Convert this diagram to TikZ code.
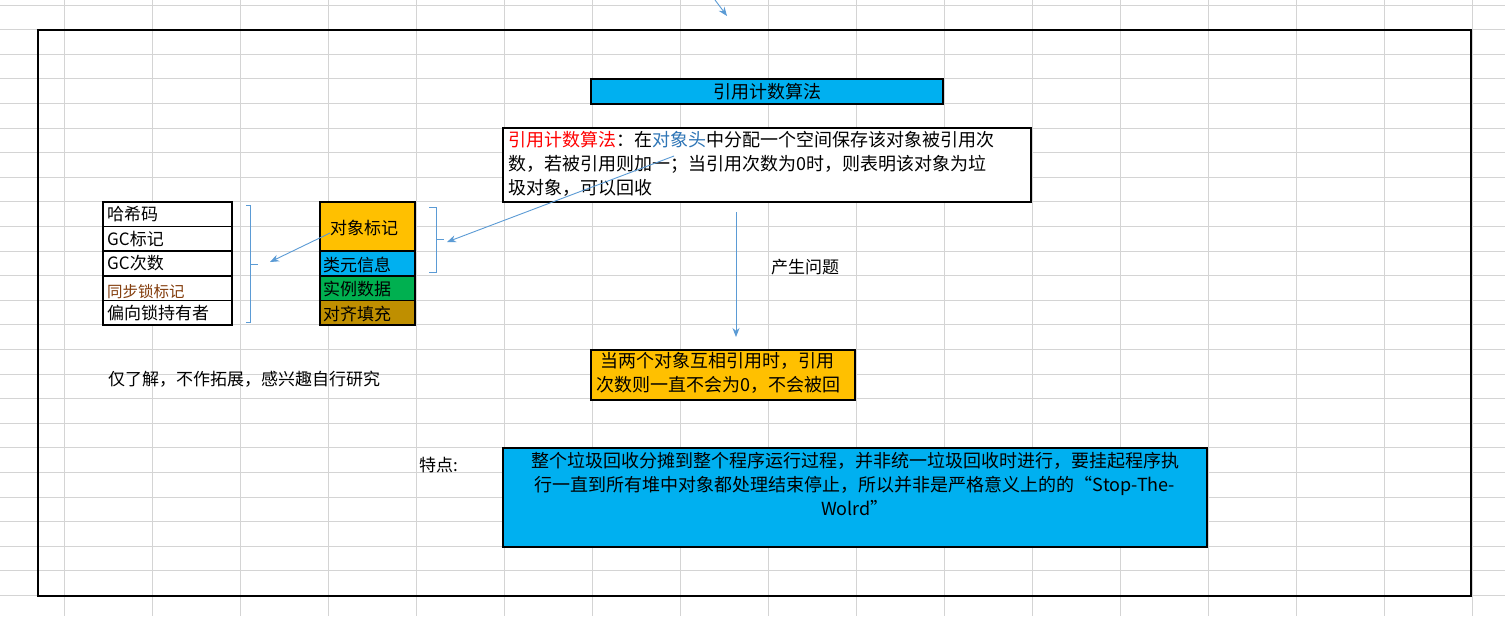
\documentclass[tikz,border=0pt]{standalone}
\usepackage{fontspec}
\setmainfont{Noto Sans CJK SC}
\usetikzlibrary{arrows.meta}
\definecolor{gridc}{HTML}{D4D4D4}
\definecolor{xblue}{HTML}{00B0F0}
\definecolor{xorange}{HTML}{FFC000}
\definecolor{xgreen}{HTML}{00B050}
\definecolor{xbrown}{HTML}{BF8F00}
\definecolor{lineblue}{HTML}{5B9BD5}
\definecolor{txtblue}{HTML}{2E75B6}
\definecolor{dred}{HTML}{833C0B}
\tikzset{
  cell/.style={draw=black, line width=1.6pt, anchor=north west, inner sep=0pt, outer sep=0pt},
  lbl/.style={anchor=west, inner sep=0pt, font=\fontsize{17}{20}\selectfont},
  conn/.style={draw=lineblue, line width=0.9pt, -{Stealth[length=9pt,width=7pt]}},
  brk/.style={draw=lineblue, line width=0.9pt},
  big/.style={font=\fontsize{18}{24}\selectfont}
}
\begin{document}
\begin{tikzpicture}[x=1pt,y=-1pt]
\useasboundingbox (0,0) rectangle (1505,616);
\fill[white] (0,0) rectangle (1505,616);
% grid
\foreach \i in {0,...,17} { \draw[gridc, line width=0.8pt] ({64+88*\i},0) -- ({64+88*\i},616); }
\foreach \j in {0,...,24} { \draw[gridc, line width=0.8pt] (0,{5+24.6*\j}) -- (1505,{5+24.6*\j}); }
\draw[black, line width=1.8pt] (38,30) rectangle (1471,596);

% top arrow
\coordinate (topa) at (715,0);
\coordinate (topb) at (727,16);
\draw[conn] (topa) -- (topb);

% title
\node[cell, fill=xblue, minimum width=352pt, minimum height=25pt] (title) at (591,79) {};
\node[big] (titlet) at (767,92) {引用计数算法};

% description box
\node[cell, fill=white, minimum width=528pt, minimum height=74pt] (desc) at (503,128) {};
\node[big, anchor=north west, align=left, inner sep=0pt] (desct) at (508,131)
 {\textcolor{red}{引用计数算法}：在\textcolor{txtblue}{对象头}中分配一个空间保存该对象被引用次\\
  数，若被引用则加一；当引用次数为0时，则表明该对象为垃\\
  圾对象，可以回收};

% left table
\foreach \t/\n [count=\k from 0] in {哈希码/l1, GC标记/l2, GC次数/l3, {}/l4, 偏向锁持有者/l5} {
  \node[cell, fill=white, minimum width=129pt, minimum height=24.6pt] (\n) at (103,{202+24.6*\k}) {};
  \node[lbl] at (107,{214.3+24.6*\k}) {\t};
}
\node[lbl, font=\fontsize{15.5}{18}\selectfont, text=dred] (l4t) at (107,291.5) {同步锁标记};

% right table
\node[cell, fill=xorange, minimum width=95pt, minimum height=49.2pt] (r1) at (320,202) {};
\node[lbl] at (330,228) {对象标记};
\node[cell, fill=xblue, minimum width=95pt, minimum height=24.6pt] (r2) at (320,251.2) {};
\node[lbl] at (323,265) {类元信息};
\node[cell, fill=xgreen, minimum width=95pt, minimum height=24.6pt] (r3) at (320,275.8) {};
\node[lbl] at (323,289) {实例数据};
\node[cell, fill=xbrown, minimum width=95pt, minimum height=24.6pt] (r4) at (320,300.4) {};
\node[lbl] at (323,314) {对齐填充};

% brackets
\draw[brk] (246,205) -- (250,205) -- (250,322) -- (246,322);
\draw[brk] (250,264) -- (258,264);
\coordinate (b1) at (270,262);
\draw[brk] (429,207) -- (436,207) -- (436,272) -- (429,272);
\draw[brk] (436,239) -- (444,239);
\coordinate (b2) at (447,242);

\coordinate (da) at (674,156);
\draw[conn] (da) -- (b2);
\coordinate (ra) at (330,233);
\draw[conn] (ra) -- (b1);

\node[lbl] (note) at (108,379) {仅了解，不作拓展，感兴趣自行研究};

% problem
\coordinate (pa) at (736,212);
\node[cell, fill=xorange, minimum width=264pt, minimum height=50pt] (prob) at (591,350) {};
\draw[conn] (pa) -- (736,337);
\node[lbl] (plbl) at (771,267) {产生问题};
\node[big, anchor=north west, align=left, inner sep=0pt] (probt) at (596,352)
 {\hspace*{4pt}当两个对象互相引用时，引用\\次数则一直不会为0，不会被回};

% feature
\node[lbl] (feat) at (419,465) {特点:};
\node[cell, fill=xblue, minimum width=704pt, minimum height=99pt] (featb) at (503,448) {};
\node[big, anchor=north, align=center, inner sep=0pt] (featt) at (855,452)
 {整个垃圾回收分摊到整个程序运行过程，并非统一垃圾回收时进行，要挂起程序执\\
  行一直到所有堆中对象都处理结束停止，所以并非是严格意义上的的“Stop-The-\\Wolrd”};
\end{tikzpicture}
\end{document}
